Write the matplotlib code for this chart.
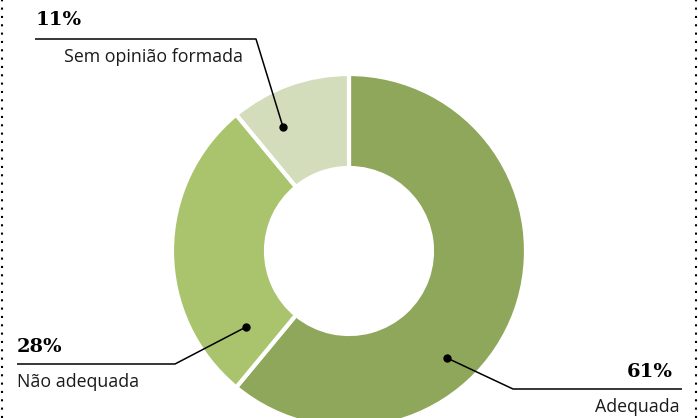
import matplotlib
matplotlib.use('Agg')
import matplotlib.pyplot as plt

W, H = 698, 418

categories = ['Adequada', 'Não adequada', 'Sem opinião formada']
values = [61, 28, 11]
pct_labels = ['61%', '28%', '11%']
colors = ['#8FA75B', '#AAC46E', '#D3DDBC']

fig = plt.figure(figsize=(W / 100, H / 100), dpi=100)
ax = fig.add_axes([0, 0, 1, 1])

# donut, drawn in pixel space (y measured from bottom)
cx, cy = 349, H - 251
ax.pie(values, colors=colors, startangle=90, counterclock=False,
       center=(cx, cy), radius=177, frame=True,
       wedgeprops=dict(width=94, edgecolor='white', linewidth=3))

# callouts: dot, elbow, end of underline, number pos/align, label pos/align
callouts = [
    # Adequada
    dict(dot=(447, 358), elbow=(513, 389), end=(682, 389),
         num=(673, 372), num_ha='right', lab=(680, 407), lab_ha='right'),
    # Não adequada
    dict(dot=(246, 327), elbow=(175, 364), end=(17, 364),
         num=(17, 347), num_ha='left', lab=(17, 382), lab_ha='left'),
    # Sem opinião formada
    dict(dot=(283, 127), elbow=(256, 39), end=(35, 39),
         num=(36, 20), num_ha='left', lab=(243, 57), lab_ha='right'),
]

for c, cat, pct in zip(callouts, categories, pct_labels):
    xs = [c['dot'][0], c['elbow'][0], c['end'][0]]
    ys = [H - c['dot'][1], H - c['elbow'][1], H - c['end'][1]]
    ax.plot(xs, ys, color='black', lw=1.1, solid_capstyle='butt')
    ax.plot(c['dot'][0], H - c['dot'][1], 'o', color='black', ms=5)
    ax.text(c['num'][0], H - c['num'][1], pct, ha=c['num_ha'], va='center',
            fontsize=14, fontweight='bold', family='DejaVu Serif')
    ax.text(c['lab'][0], H - c['lab'][1], cat, ha=c['lab_ha'], va='center',
            fontsize=12.8, family='Open Sans', color='#1a1a1a')

# dotted frame sides
for x in (2, 696):
    ax.plot([x, x], [0, H], color='black', lw=1.5, linestyle=(0, (1, 3)))

ax.set_xlim(0, W)
ax.set_ylim(0, H)
ax.set_aspect('equal')
ax.axis('off')

fig.savefig('out.png', dpi=100)
